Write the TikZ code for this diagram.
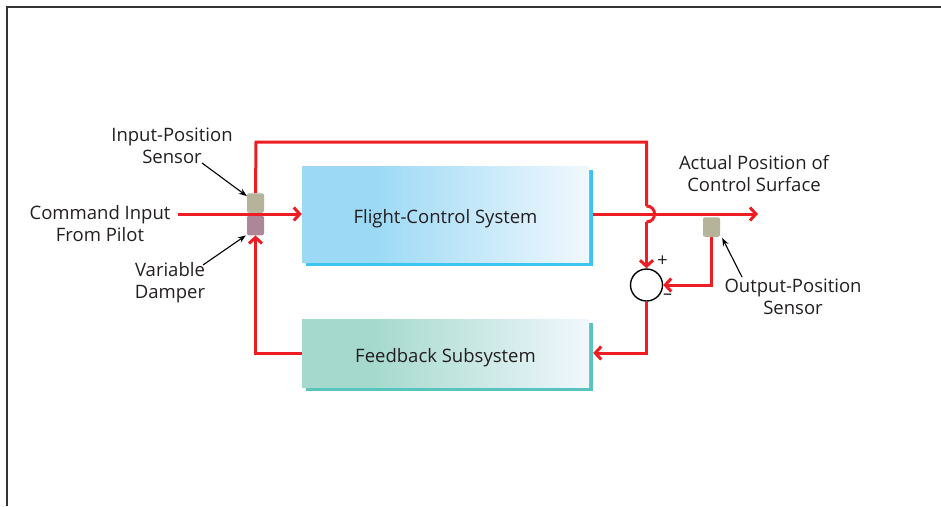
\documentclass[tikz,border=0pt]{standalone}
\usepackage{fontspec}
\setmainfont{Open Sans}
\usetikzlibrary{arrows.meta,shadows}
\definecolor{redc}{HTML}{EE1D23}
\definecolor{fcsA}{HTML}{9BD9F5}
\definecolor{fcsB}{HTML}{F1F8FE}
\definecolor{fcsSh}{HTML}{3CC5F1}
\definecolor{fbA}{HTML}{A5D9CD}
\definecolor{fbB}{HTML}{F1F7FD}
\definecolor{fbSh}{HTML}{57C4BE}
\definecolor{sensC}{HTML}{B6B39B}
\definecolor{dampC}{HTML}{AD8698}
\definecolor{txt}{HTML}{231F20}
\definecolor{framec}{HTML}{333333}
\pgfdeclarehorizontalshading{fcsshade}{100bp}{color(0bp)=(fcsA); color(37bp)=(fcsA); color(75bp)=(fcsB); color(100bp)=(fcsB)}
\pgfdeclarehorizontalshading{fbshade}{100bp}{color(0bp)=(fbA); color(37bp)=(fbA); color(75bp)=(fbB); color(100bp)=(fbB)}
\begin{document}
\begin{tikzpicture}[x=1pt,y=-1pt,
  lbl/.style={align=center, text=txt, font=\fontsize{18.5}{22}\selectfont, inner sep=0pt},
  sysbox/.style={lbl, minimum width=287pt, draw=none, text height=18.5pt, text depth=0pt},
  fcsbox/.style={sysbox, minimum height=96pt, shade, shading=fcsshade,
     drop shadow={shadow xshift=4pt, shadow yshift=-4pt, fill=fcsSh, opacity=1}},
  fbbox/.style={sysbox, minimum height=68pt, shade, shading=fbshade,
     drop shadow={shadow xshift=4pt, shadow yshift=-4pt, fill=fbSh, opacity=1}},
  sensbox/.style={rounded corners=2pt, inner sep=0pt, minimum width=17pt, minimum height=19.5pt, draw=none},
  redline/.style={draw=redc, line width=3pt},
  redarrow/.style={redline, -{Straight Barb[length=6pt,width=13pt]}},
  annot/.style={draw=black, line width=1.1pt, -{Stealth[length=8pt,width=6pt]}},
  sumnode/.style={circle, draw=black, line width=1.4pt, minimum size=32pt, inner sep=0pt},
  signlbl/.style={lbl, font=\fontsize{18}{18}\selectfont}
]
\useasboundingbox (0,0) rectangle (941,506);
\draw[framec, line width=1.8pt] (7,506) -- (7,7) -- (941,7);

% boxes
\node[fcsbox] (fcs) at (445.5,214) {Flight-Control System};
\node[fbbox] (fb) at (445.5,353) {Feedback Subsystem};

% sensors
\node[sensbox, fill=sensC] (isens) at (255.5,203) {};
\node[sensbox, fill=dampC] (damper) at (255.5,225.5) {};
\node[sensbox, fill=sensC] (osens) at (711.5,227) {};
\node[sumnode] (sum) at (646.5,285) {};

% labels
\node[lbl] (ipsl) at (172,146) {Input-Position\\Sensor};
\node[lbl] (cmdl) at (100,224) {Command Input\\From Pilot};
\node[lbl] (vdl) at (170,283) {Variable\\Damper};
\node[lbl] (apl) at (754,174) {Actual Position of\\Control Surface};
\node[lbl] (opsl) at (793,297) {Output-Position\\Sensor};
\node[signlbl] (plus) at (662.5,261) {+};
\node[signlbl] (minus) at (667.5,297) {\textendash};

% coordinates
\coordinate (cmdstart) at (178,214);
\coordinate (topL) at (256,142);
\coordinate (topR) at (646.5,142);
\coordinate (hopA) at (646.5,206);
\coordinate (hopB) at (646.5,222);
\coordinate (outend) at (758,214);

% red connectors
\draw[redarrow] (cmdstart) -- (fcs.west);
\draw[redline] (isens.north) -- (topL) -- (topR) -- (hopA);
\draw[redline] (hopA) .. controls (657.2,206) and (657.2,222) .. (hopB);
\draw[redarrow] (hopB) -- (sum.north);
\draw[redarrow] ([xshift=4pt]fcs.east) -- (outend);
\draw[redarrow] (osens.south) |- (sum.east);
\draw[redarrow] (sum.south) |- ([xshift=4pt]fb.east);
\draw[redarrow] (fb.west) -| (damper.south);

% annotation arrows
\coordinate (a1) at (202,163);
\coordinate (a2) at (203,265);
\coordinate (a3) at (742,277);
\draw[annot] (a1) -- ([yshift=-3pt]isens.north west);
\draw[annot] (a2) -- ([xshift=-1pt]damper.south west);
\draw[annot] (a3) -- ([xshift=2pt,yshift=-1pt]osens.south east);
\end{tikzpicture}
\end{document}
